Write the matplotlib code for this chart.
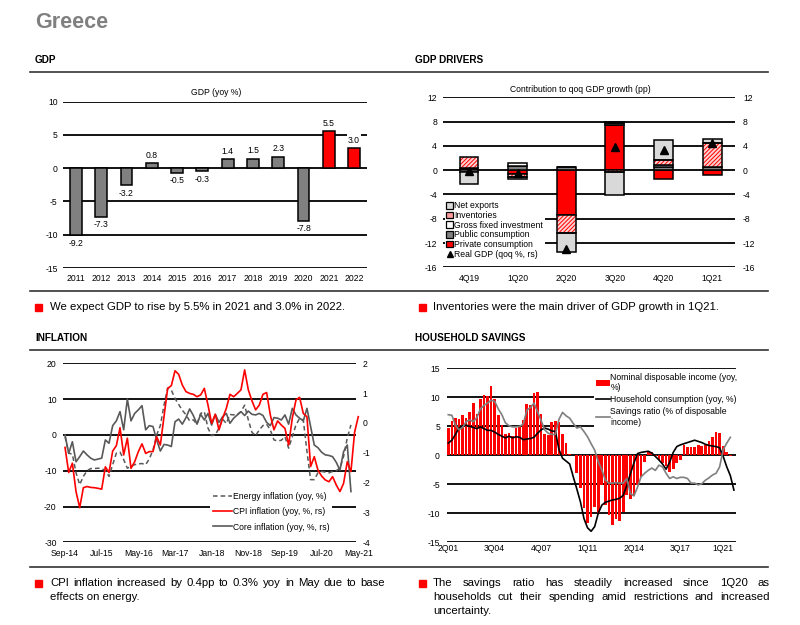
"""
Greece country page: GDP, GDP drivers, inflation and household savings.
"""
import matplotlib
matplotlib.use("Agg")
import matplotlib.pyplot as plt
import numpy as np
from matplotlib.lines import Line2D
from matplotlib.patches import Patch, Rectangle

plt.rcParams["font.family"] = ["Liberation Sans", "DejaVu Sans"]
plt.rcParams["hatch.linewidth"] = 0.7
plt.rcParams["axes.unicode_minus"] = False

# ---------------- data ----------------
years = ["2011", "2012", "2013", "2014", "2015", "2016", "2017", "2018", "2019", "2020", "2021", "2022"]
gdp_bars = [-10.1, -7.3, -2.6, 0.7, -0.7, -0.5, 1.3, 1.4, 1.7, -7.9, 5.5, 3.0]
gdp_labels = ["-9.2", "-7.3", "-3.2", "0.8", "-0.5", "-0.3", "1.4", "1.5", "2.3", "-7.8", "5.5", "3.0"]
gdp_forecast = [False] * 10 + [True, True]

quarters = ["4Q19", "1Q20", "2Q20", "3Q20", "4Q20", "1Q21"]
private_cons = [0.4, -0.7, -7.4, 7.4, -1.5, -0.8]
public_cons = [0.0, 0.7, 0.5, 0.3, 0.6, 0.5]
gross_fixed_inv = [-0.3, 0.4, 0.0, 0.3, 0.2, 0.1]
inventories = [1.7, -0.5, -3.0, -0.3, 0.9, 3.9]
net_exports = [-1.9, -0.3, -3.0, -3.8, 3.2, 0.6]
real_gdp_qoq = [-0.1, -0.4, -13.0, 3.8, 3.4, 4.4]

# monthly, Sep-14 onwards
month_labels = ["Sep-14", "Jul-15", "May-16", "Mar-17", "Jan-18", "Nov-18", "Sep-19", "Jul-20", "May-21"]
energy_infl = [-0.5, -5.1, -5.4, -10.6, -13.9, -11.6, -10.0, -9.4, -9.4, -9.3,
               -9.4, -10.0, -11.6, -8.3, -5.1, -4.8, -6.9, -9.3, -8.8, -8.3,
               -8.1, -8.0, -8.3, -6.7, -4.2, 0.0, 2.6, 8.3, 13.1, 12.5,
               10.2, 8.5, 6.9, 5.6, 3.9, 4.2, 3.0, 6.0, 6.5, 1.9,
               -0.2, 0.0, 1.9, 4.4, 3.2, 5.7, 5.6, 5.7, 6.5, 8.3,
               4.2, 0.7, -0.2, 1.4, 2.6, 3.0, 1.4, -1.4, -1.7, -1.5,
               -0.5, -3.7, -0.5, 2.8, 4.6, 4.2, -4.6, -12.5, -12.5, -10.6,
               -10.2, -10.4, -10.6, -10.2, -10.0, -9.3, -6.0, -0.9, 2.8]
cpi_infl = [-0.82, -1.66, -1.35, -2.30, -2.84, -2.17, -2.13, -2.16, -2.17, -2.19,
            -2.22, -1.47, -1.66, -0.94, -0.76, -0.16, -1.07, -0.51, -1.52, -1.30,
            -0.96, -0.70, -1.02, -0.96, -0.96, -0.46, -0.74, 0.21, 1.16, 1.25,
            1.75, 1.63, 1.27, 1.05, 0.99, 0.96, 0.88, 0.94, 1.16, 0.60,
            -0.01, 0.29, -0.23, 0.16, 0.49, 0.96, 0.88, 0.99, 1.11, 1.78,
            1.11, 0.74, 0.44, 0.60, 0.96, 1.02, 0.27, -0.23, 0.07, -0.07,
            -0.18, -0.74, 0.16, 0.77, 0.86, 0.32, 0.21, -1.46, -1.13, -1.58,
            -1.78, -1.91, -1.97, -1.80, -2.08, -2.30, -2.02, -1.30, -1.63, -0.31,
            0.21]
core_infl = [-0.40, -1.02, -0.63, -1.30, -1.13, -0.94, -1.07, -1.18, -1.24, -1.21,
             -1.18, -0.57, -0.68, -0.09, 0.07, 0.38, -0.23, 0.80, 0.07, 0.32,
             0.44, 0.58, -0.23, -0.09, -0.12, -0.57, -0.94, -0.72, -0.74, -0.79,
             0.04, 0.13, -0.04, 0.18, 0.47, 0.25, -0.04, 0.29, 0.10, 0.32,
             -0.07, 0.29, 0.02, 0.21, 0.32, -0.01, 0.16, 0.27, 0.38, 0.25,
             0.40, 0.29, 0.27, 0.32, 0.25, 0.02, -0.09, 0.18, 0.16, 0.10,
             0.27, -0.04, 0.49, 0.27, 0.16, 0.07, 0.49, -0.12, -0.74, -0.83,
             -0.98, -1.07, -1.09, -1.13, -1.32, -1.58, -0.96, -0.74, -2.30]

# quarterly, 2Q01 onwards
quarter_labels = ["2Q01", "3Q04", "4Q07", "1Q11", "2Q14", "3Q17", "1Q21"]
disp_income = [4.7, 5.9, 6.5, 6.3, 7.0, 6.5, 7.4, 9.1, 7.2, 9.7,
               10.4, 10.3, 12.0, 9.7, 7.0, 5.2, 3.6, 3.8, 3.4, 4.7,
               4.8, 6.1, 8.8, 8.7, 10.7, 10.9, 7.1, 3.6, 3.5, 5.8,
               5.9, 5.8, 3.6, 2.2, 0.3, 0.1, -3.1, -5.6, -9.1, -11.6,
               -10.7, -8.9, -10.0, -5.1, -8.6, -10.3, -12.0, -10.9, -11.3, -9.7,
               -6.8, -7.5, -7.1, -5.1, -3.7, -1.1, 0.8, 0.5, -0.2, -0.8,
               -1.4, -1.8, -2.8, -2.4, -1.4, -0.8, 1.8, 1.5, 1.5, 1.5,
               1.7, 1.6, 1.8, 2.5, 3.2, 4.0, 3.9, 1.6, 0.5, -0.2]
hh_consumption = [2.1, 2.6, 3.6, 4.7, 5.1, 5.2, 5.0, 4.8, 4.6, 4.9,
                  4.6, 4.3, 4.3, 4.0, 3.6, 3.3, 3.0, 3.3, 3.0, 3.2,
                  3.1, 2.7, 2.8, 2.9, 3.1, 3.8, 4.4, 4.7, 4.5, 4.2,
                  4.1, 1.0, -0.5, -1.0, -1.5, -3.7, -5.8, -8.0, -10.9, -12.5,
                  -13.1, -12.3, -10.0, -8.6, -8.1, -7.9, -7.7, -7.6, -7.4, -6.9,
                  -5.2, -3.2, -1.3, 0.3, 0.5, 0.6, 0.7, 0.4, -0.2, -0.8,
                  -1.5, -2.4, -1.2, 0.5, 1.5, 1.8, 2.0, 2.2, 2.4, 2.6,
                  2.4, 2.2, 1.9, 1.7, 1.6, 1.5, 1.3, -0.2, -2.0, -3.5,
                  -6.0]
savings_ratio = [7.0, 6.9, 5.2, 4.4, 4.8, 5.8, 6.1, 5.8, 6.5, 8.0,
                 8.6, 9.0, 9.5, 9.3, 8.0, 7.0, 5.6, 5.1, 4.9, 4.9,
                 5.0, 5.4, 7.8, 8.2, 9.0, 7.5, 6.0, 4.4, 3.8, 3.6,
                 3.6, 6.2, 7.4, 6.8, 6.4, 5.5, 4.7, 4.9, 4.1, 3.2,
                 2.0, 0.9, -1.1, -2.5, -4.3, -4.8, -4.8, -4.7, -4.8, -4.8,
                 -4.0, -6.6, -7.0, -5.5, -3.7, -3.1, -2.6, -2.2, -2.6, -1.7,
                 -2.0, -3.1, -4.0, -3.7, -4.0, -3.8, -3.8, -4.0, -4.8, -4.8,
                 -5.1, -4.9, -4.3, -3.9, -3.4, -3.1, -2.0, 1.0, 2.1, 3.1]

# ---------------- page ----------------
W, H = 800, 625
fig = plt.figure(figsize=(W / 100, H / 100), dpi=100)
SMALL = 6.2
RED = "#ff0000"
PINK = "#ffd0d0"


def fx(px):
    return px / W


def fy(py):
    return 1 - py / H


def axes_px(x0, y0, x1, y1):
    return fig.add_axes([fx(x0), fy(y1), (x1 - x0) / W, (y1 - y0) / H])


def clean(ax, ypad=4.3, xpad=4.5):
    for s in ax.spines.values():
        s.set_visible(False)
    ax.tick_params(axis="both", length=0, labelsize=SMALL)
    ax.tick_params(axis="y", pad=ypad)
    ax.tick_params(axis="x", pad=xpad)


def hline(y, x0=30, x1=768):
    fig.add_artist(Line2D([fx(x0), fx(x1)], [fy(y), fy(y)], color="#333333", lw=1.2))


def bullet(x, y):
    fig.add_artist(Rectangle((fx(x), fy(y + 3.5)), 6.5 / W, 6.5 / H, color=RED,
                             transform=fig.transFigure))


def justified(text, x0, x1, y, size=8.2):
    words = text.split()
    r = fig.canvas.get_renderer()
    ts = [fig.text(0, fy(y), w, fontsize=size, va="center") for w in words]
    widths = [t.get_window_extent(renderer=r).width for t in ts]
    gap = (x1 - x0 - sum(widths)) / (len(ts) - 1)
    x = x0
    for t, w in zip(ts, widths):
        t.set_x(fx(x))
        x += w + gap


fig.text(fx(35), fy(22), "Greece", fontsize=15.5, fontweight="bold", color="#808080", va="center")
for x, y, s in [(35, 60, "GDP"), (415, 60, "GDP DRIVERS"),
                (35, 338, "INFLATION"), (415, 338, "HOUSEHOLD SAVINGS")]:
    fig.text(fx(x), fy(y), s, fontsize=7.2, fontweight="bold", va="center")
for y in [72, 291, 350, 567]:
    hline(y)

# --- GDP ---
ax = axes_px(63, 101.5, 367, 268)
clean(ax, ypad=3.8, xpad=4.3)
xg = np.arange(len(years))
ax.bar(xg, gdp_bars, width=0.47, color=[RED if f else "#808080" for f in gdp_forecast],
       edgecolor="black", linewidth=1.1, zorder=2)
for v in range(-15, 11, 5):
    ax.axhline(v, color="black", lw=1.3, zorder=0.5)
for i, (v, lab) in enumerate(zip(gdp_bars, gdp_labels)):
    ax.annotate(lab, (i, v), xytext=(0, 2.5 if v >= 0 else -2.5), textcoords="offset points",
                ha="center", va="bottom" if v >= 0 else "top", fontsize=SMALL, zorder=4,
                bbox=dict(boxstyle="square,pad=0.15", fc="white", ec="none"))
ax.set_xlim(-0.51, 11.51)
ax.set_ylim(-15, 10)
ax.set_yticks(range(-15, 11, 5))
ax.set_xticks(xg)
ax.set_xticklabels(years)
fig.text(fx(216), fy(92.5), "GDP (yoy %)", fontsize=SMALL, ha="center", va="center")

# --- GDP drivers ---
ax = axes_px(443, 97.3, 735, 267.3)
clean(ax, ypad=4.3, xpad=4.8)
ax2 = ax.twinx()
clean(ax2, ypad=5.8)
xq = np.arange(len(quarters))
for v in range(-16, 13, 4):
    ax.axhline(v, color="black", lw=1.3, zorder=0.5)
pos_base = np.zeros(len(quarters))
neg_base = np.zeros(len(quarters))
components = [
    (private_cons, dict(color=RED)),
    (public_cons, dict(color="#808080")),
    (gross_fixed_inv, dict(color="white")),
    (inventories, None),
    (net_exports, dict(color="#d9d9d9")),
]
for vals, st in components:
    vals = np.array(vals)
    base = np.where(vals >= 0, pos_base, neg_base)
    if st is None:
        ax.bar(xq, vals, bottom=base, width=0.39, color=PINK, edgecolor=RED,
               hatch="////////", linewidth=0, zorder=2)
        ax.bar(xq, vals, bottom=base, width=0.39, fill=False, edgecolor="black",
               linewidth=1.1, zorder=2.1)
    else:
        ax.bar(xq, vals, bottom=base, width=0.39, edgecolor="black", linewidth=1.1,
               zorder=2, **st)
    pos_base += np.clip(vals, 0, None)
    neg_base += np.clip(vals, None, 0)
ax2.plot(xq, real_gdp_qoq, ls="none", marker="^", color="black", markersize=5.5, zorder=5)
for a in (ax, ax2):
    a.set_ylim(-16, 12)
    a.set_yticks(range(-16, 13, 4))
ax.set_xlim(-0.535, 5.47)
ax.set_xticks(xq)
ax.set_xticklabels(quarters)
fig.text(fx(580), fy(90), "Contribution to qoq GDP growth (pp)", fontsize=SMALL, ha="center", va="center")
handles = [Patch(facecolor="#d9d9d9", edgecolor="black", linewidth=0.9),
           Patch(facecolor="#ff9c9c", edgecolor="black", linewidth=0.9),
           Patch(facecolor="white", edgecolor="black", linewidth=0.9),
           Patch(facecolor="#808080", edgecolor="black", linewidth=0.9),
           Patch(facecolor=RED, edgecolor="black", linewidth=0.9),
           Line2D([], [], ls="none", marker="^", color="black", markersize=5)]
labels = ["Net exports", "Inventories", "Gross fixed investment", "Public consumption",
          "Private consumption", "Real GDP (qoq %, rs)"]
ax2.legend(handles, labels, loc="upper left", bbox_to_anchor=(fx(445), fy(200)),
           bbox_transform=fig.transFigure, fontsize=SMALL, handlelength=0.8,
           handleheight=0.8, handletextpad=0.15, labelspacing=0.08, borderpad=0.15,
           borderaxespad=0, fancybox=False, framealpha=1, edgecolor="none")

# --- Inflation ---
ax = axes_px(63.2, 363.3, 360.1, 542.3)
clean(ax, ypad=4.7, xpad=5)
ax2 = ax.twinx()
clean(ax2, ypad=1.5)
ax.hlines(range(-30, 21, 10), -0.5, 79.5, color="black", lw=1.3, zorder=0.5)
ax.plot(np.arange(len(energy_infl)), energy_infl, color="#595959", lw=1.1, dashes=(3, 2))
ax2.plot(np.arange(len(core_infl)), core_infl, color="#595959", lw=1.2)
ax2.plot(np.arange(len(cpi_infl)), cpi_infl, color=RED, lw=1.2)
ax.set_xlim(-0.5, 80.5)
ax.set_ylim(-30, 20)
ax.set_yticks(range(-30, 21, 10))
ax2.set_ylim(-4, 2)
ax2.set_yticks(range(-4, 3))
ax.set_xticks(np.arange(0, 81, 10))
ax.set_xticklabels(month_labels)
handles = [Line2D([], [], color="#595959", lw=1.1, dashes=(3, 2)),
           Line2D([], [], color=RED, lw=1.2), Line2D([], [], color="#595959", lw=1.2)]
labels = ["Energy inflation (yoy, %)", "CPI inflation (yoy, %, rs)", "Core inflation (yoy, %, rs)"]
ax2.legend(handles, labels, loc="upper left", bbox_to_anchor=(fx(210), fy(489)),
           bbox_transform=fig.transFigure, fontsize=SMALL, handlelength=2.2,
           handletextpad=0.2, labelspacing=0.75, borderpad=0.3, borderaxespad=0,
           fancybox=False, framealpha=1, edgecolor="none")

# --- Household savings ---
ax = axes_px(446.5, 368.3, 735.7, 542.3)
clean(ax, ypad=4.7, xpad=1)
ax.hlines(range(-15, 16, 5), -0.5, 80.5, color="black", lw=1.3, zorder=0.5)
ax.bar(np.arange(len(disp_income)), disp_income, width=0.75, color=RED, zorder=2)
ax.plot(np.arange(len(hh_consumption)), hh_consumption, color="black", lw=1.2, zorder=3)
ax.plot(np.arange(len(savings_ratio)), savings_ratio, color="#7f7f7f", lw=1.2, zorder=3)
ax.set_xlim(-0.5, 80.5)
ax.set_ylim(-15, 15)
ax.set_yticks(range(-15, 16, 5))
ax.set_xticks([0, 13, 26, 39, 52, 65, 77])
ax.set_xticklabels(quarter_labels)
handles = [Patch(facecolor=RED, edgecolor="none"), Line2D([], [], color="black", lw=1.2),
           Line2D([], [], color="#7f7f7f", lw=1.2)]
labels = ["Nominal disposable income (yoy,\n%)", "Household consumption (yoy, %)",
          "Savings ratio (% of disposable\nincome)"]
leg = ax.legend(handles, labels, loc="upper left", bbox_to_anchor=(fx(594), fy(371)),
                bbox_transform=fig.transFigure, fontsize=SMALL, handlelength=1.6,
                handleheight=0.7, handletextpad=0.1, labelspacing=0.35, borderpad=0.2,
                borderaxespad=0, fancybox=False, framealpha=1, edgecolor="none")
leg.set_zorder(5)

# --- comments ---
bullet(35, 307)
fig.text(fx(50), fy(307), "We expect GDP to rise by 5.5% in 2021 and 3.0% in 2022.", fontsize=8.2, va="center")
bullet(419, 307)
fig.text(fx(433), fy(307), "Inventories were the main driver of GDP growth in 1Q21.", fontsize=8.2, va="center")
bullet(35, 583)
justified("CPI inflation increased by 0.4pp to 0.3% yoy in May due to base", 50, 385, 583)
fig.text(fx(50), fy(597), "effects on energy.", fontsize=8.2, va="center")
bullet(419, 583)
justified("The savings ratio has steadily increased since 1Q20 as", 433, 770, 583)
justified("households cut their spending amid restrictions and increased", 433, 770, 597)
fig.text(fx(433), fy(611), "uncertainty.", fontsize=8.2, va="center")

fig.savefig("out.png", dpi=100)
plt.close(fig)
